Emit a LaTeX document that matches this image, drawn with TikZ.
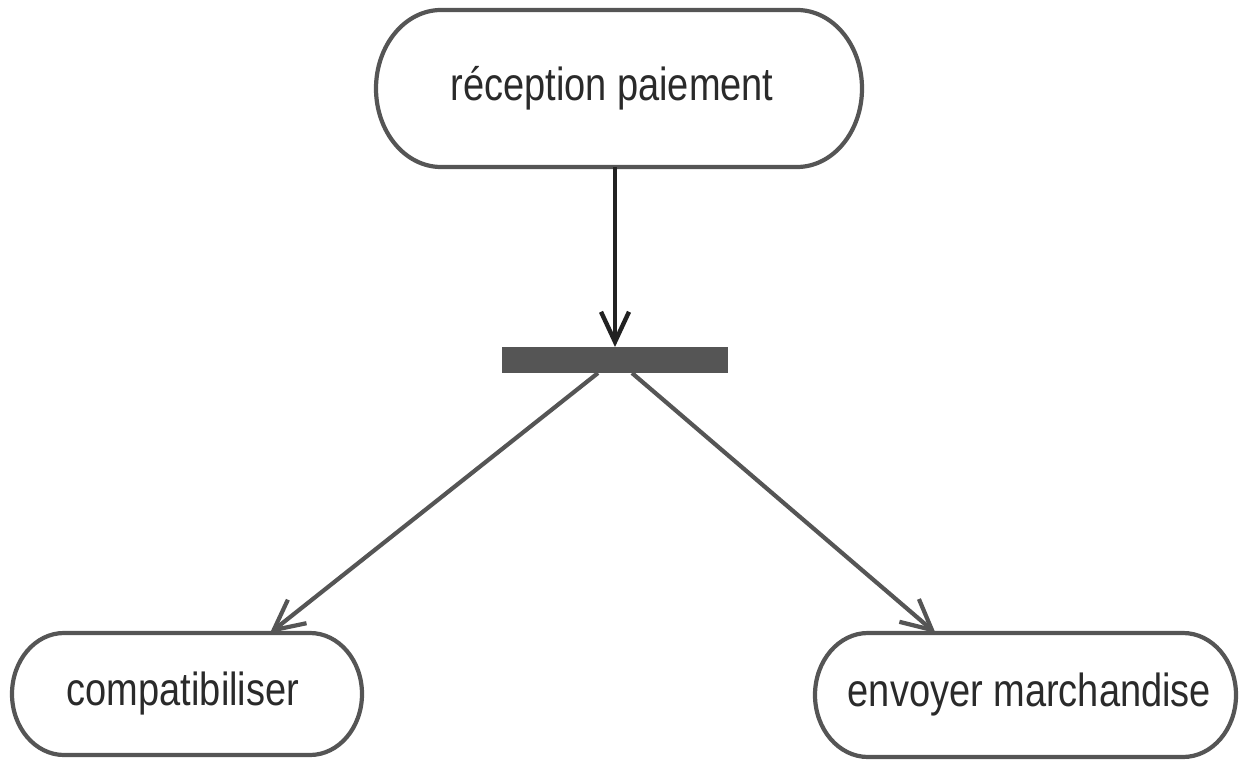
\documentclass[tikz,border=0pt]{standalone}
\usepackage{fontspec}
\setmainfont{Liberation Sans}
\usetikzlibrary{arrows.meta,calc}

\definecolor{outline}{HTML}{555555}
\definecolor{ink}{HTML}{2A2A2A}
\definecolor{flow}{HTML}{222222}
\definecolor{barfill}{HTML}{555555}

% capsule outline around a named node: #1 node, #2 x radius, #3 y radius
\newcommand\capsuleoutline[3]{%
  \draw[capsule line] ($(#1.north west)+(#2,0)$) -- ($(#1.north east)-(#2,0)$)
    arc[start angle=90,end angle=-90,x radius=#2,y radius=#3]
    -- ($(#1.south west)+(#2,0)$)
    arc[start angle=270,end angle=90,x radius=#2,y radius=#3] -- cycle;}

\newcommand\acttext[1]{\scalebox{1}[1.22]{\fontsize{38}{40}\selectfont #1}}

\tikzset{
  action/.style={rectangle, inner sep=0pt, outer sep=0pt, text=ink, align=center},
  capsule line/.style={draw=outline, line width=4.2pt},
  syncbar/.style={rectangle, fill=barfill, inner sep=0pt, outer sep=0pt},
  control flow/.style={draw=flow, line width=4.4pt,
    -{Straight Barb[length=30pt,width=28pt]}},
  fork flow/.style={draw=outline, line width=4.2pt,
    -{Straight Barb[length=30pt,width=30pt]}},
}

\begin{document}
\begin{tikzpicture}[x=1pt,y=1pt]
  \useasboundingbox (0,0) rectangle (1239,764);

  % actions
  \node[action, minimum width=486pt, minimum height=157pt] (recv) at (619,675.5)
    {\raisebox{5pt}{\acttext{réception paiement}}\hspace{14pt}};
  \node[action, minimum width=350pt, minimum height=122pt] (compta) at (187,70)
    {\acttext{compatibiliser}\hspace{8pt}};
  \node[action, minimum width=421pt, minimum height=124pt] (ship) at (1025.5,69)
    {\hspace{8pt}\acttext{envoyer marchandise}};

  \capsuleoutline{recv}{65}{78.5}
  \capsuleoutline{compta}{52}{61}
  \capsuleoutline{ship}{53}{62}

  % fork bar
  \node[syncbar, minimum width=226pt, minimum height=26pt] (fork) at (615,404) {};

  % flows
  \draw[control flow] (recv.south -| fork.north) -- (fork.north);

  \coordinate (forkL) at ($(fork.south)+(-17,0)$);
  \coordinate (forkR) at ($(fork.south)+(17,0)$);
  \coordinate (inCompta) at ($(compta.north)+(83,0)$);
  \coordinate (inShip) at ($(ship.north)+(-90,0)$);

  \draw[fork flow] (forkL) -- (inCompta);
  \draw[fork flow] (forkR) -- (inShip);
\end{tikzpicture}
\end{document}
